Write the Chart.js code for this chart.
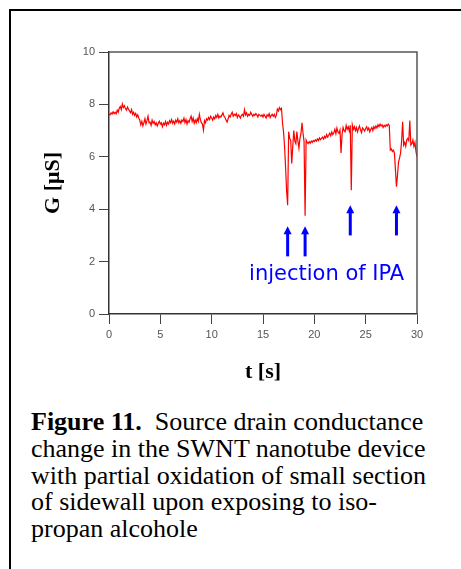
<!DOCTYPE html>
<html>
<head>
<meta charset="utf-8">
<script src="https://cdn.jsdelivr.net/npm/chart.js@4/dist/chart.umd.min.js"></script>
<style>
  html, body { margin: 0; padding: 0; background: #fff; }
  body { width: 461px; height: 569px; position: relative; overflow: hidden; }
  #frame { position: absolute; left: 9px; top: 9px; width: 470px; height: 600px;
           border-left: 2px solid #000; border-top: 2px solid #000; }
  #wrap { position: absolute; left: 0; top: 0; width: 461px; height: 395px; }
  #caption { position: absolute; left: 31px; top: 409px; font-family: "Liberation Serif", "Times New Roman", serif;
             font-size: 26px; line-height: 26.8px; color: #000; white-space: pre; }
</style>
</head>
<body>
<div id="frame"></div>
<div id="wrap"><canvas id="c" width="461" height="395"></canvas></div>
<div id="caption"><b>Figure 11.</b>  Source drain conductance
change in the SWNT nanotube device
with partial oxidation of small section
of sidewall upon exposing to iso-
propan alcohole</div>
<script>
// time axis: 0.0 .. 30.0 s in 0.1 s steps
const timeStep = 0.1;
const conductance = [
  // 0-1 s
  7.62,7.60,7.68,7.63,7.72,7.65,7.70,7.64,7.78,7.70,
  // 1-2
  7.85,7.92,7.80,8.02,7.88,7.95,7.84,7.78,7.90,7.82,
  // 2-3
  7.75,7.68,7.80,7.62,7.70,7.58,7.66,7.52,7.60,7.48,
  // 3-4
  7.40,7.22,7.35,7.18,7.30,7.45,7.25,7.38,7.55,7.30,
  // 4-5
  7.32,7.20,7.40,7.28,7.35,7.22,7.30,7.18,7.28,7.36,
  // 5-6
  7.25,7.30,7.15,7.28,7.22,7.35,7.20,7.32,7.25,7.38,
  // 6-7
  7.30,7.42,7.28,7.36,7.25,7.40,7.32,7.45,7.30,7.38,
  // 7-8
  7.28,7.40,7.35,7.48,7.30,7.42,7.25,7.38,7.32,7.45,
  // 8-9
  7.55,7.35,7.48,7.28,7.40,7.30,7.45,7.35,7.62,7.42,
  // 9-10
  7.30,7.25,7.02,7.38,7.30,7.45,7.40,7.50,7.42,7.55,
  // 10-11
  7.48,7.40,7.52,7.45,7.58,7.50,7.62,7.48,7.55,7.52,
  // 11-12
  7.60,7.68,7.55,7.50,7.40,7.32,7.45,7.58,7.52,7.62,
  // 12-13
  7.70,7.55,7.62,7.58,7.65,7.50,7.60,7.55,7.48,7.58,
  // 13-14
  7.62,7.55,7.80,7.60,7.68,7.55,7.62,7.58,7.70,7.62,
  // 14-15
  7.55,7.62,7.58,7.65,7.60,7.52,7.62,7.58,7.55,7.60,
  // 15-16
  7.52,7.62,7.55,7.48,7.60,7.55,7.65,7.50,7.58,7.62,
  // 16-17
  7.55,7.62,7.50,7.58,7.82,7.75,7.88,7.80,7.85,7.30,
  // 17-18
  6.95,6.40,5.60,4.70,4.15,6.96,6.70,6.64,5.75,6.40,
  // 18-19
  7.00,6.60,6.50,6.96,6.60,6.33,6.70,6.90,7.30,6.90,
  // 19-20
  6.58,3.75,6.64,6.55,6.50,6.58,6.52,6.60,6.55,6.62,
  // 20-21
  6.58,6.65,6.60,6.68,6.62,6.72,6.65,6.70,6.75,6.68,
  // 21-22
  6.78,6.72,6.85,6.75,6.82,6.90,6.80,6.95,6.85,6.92,
  // 22-23
  7.05,6.88,7.10,6.95,6.90,7.02,6.15,6.85,7.12,7.00,
  // 23-24
  6.95,7.20,7.05,7.15,6.98,7.20,4.72,7.22,7.05,7.15,
  // 24-25
  7.00,7.12,6.95,7.08,7.18,7.02,6.92,7.10,7.05,6.98,
  // 25-26
  7.08,7.15,7.02,7.10,6.95,7.05,7.12,7.00,7.15,7.08,
  // 26-27
  7.18,7.10,7.22,7.15,7.25,7.18,7.22,7.12,7.20,7.15,
  // 27-28
  7.22,7.18,7.25,7.20,6.26,6.30,6.20,6.25,6.15,5.50,
  // 28-29
  4.86,5.30,5.80,5.95,6.14,6.60,7.34,6.45,6.55,6.40,
  // 29-30
  6.64,6.70,6.62,7.38,6.45,6.50,6.64,6.40,6.55,6.20,
  6.00
];
const xTicks = [0, 5, 10, 15, 20, 25, 30];
const yTicks = [0, 2, 4, 6, 8, 10];
// IPA injection arrows: time, tail value, tip value
const arrowTimes = [17.4, 19.1, 23.5, 28.0];
const arrowTails = [2.2, 2.2, 3.0, 3.0];
const arrowTips  = [3.35, 3.35, 4.15, 4.15];
const annotationText = "injection of IPA";
const annotationT = 21.2;
const annotationG = 1.5;

const points = conductance.map((g, i) => ({ x: Math.round(i * timeStep * 10) / 10, y: g }));

const framePlugin = {
  id: 'frame',
  afterDraw(chart) {
    const { ctx, chartArea: a, scales: { x, y } } = chart;
    ctx.save();
    // top & right frame lines
    ctx.strokeStyle = '#555';
    ctx.lineWidth = 1.5;
    ctx.beginPath();
    ctx.moveTo(a.left, a.top); ctx.lineTo(a.right, a.top); ctx.lineTo(a.right, a.bottom);
    ctx.stroke();
    // arrows
    ctx.strokeStyle = '#0000ff';
    ctx.fillStyle = '#0000ff';
    arrowTimes.forEach((t, i) => {
      const px = x.getPixelForValue(t);
      const y0 = y.getPixelForValue(arrowTails[i]);
      const y1 = y.getPixelForValue(arrowTips[i]);
      ctx.lineWidth = 3;
      ctx.beginPath();
      ctx.moveTo(px, y0); ctx.lineTo(px, y1 + 6); ctx.stroke();
      ctx.beginPath();
      ctx.moveTo(px, y1); ctx.lineTo(px - 4, y1 + 8); ctx.lineTo(px + 4, y1 + 8); ctx.closePath();
      ctx.fill();
    });
    // annotation
    ctx.font = '21px "DejaVu Sans", sans-serif';
    ctx.textAlign = 'center';
    ctx.textBaseline = 'middle';
    ctx.fillText(annotationText, x.getPixelForValue(annotationT), y.getPixelForValue(annotationG));
    ctx.restore();
  }
};

new Chart(document.getElementById('c'), {
  type: 'line',
  data: {
    datasets: [{
      data: points,
      borderColor: '#ff0000',
      borderWidth: 1.2,
      pointRadius: 0,
      tension: 0,
      fill: false
    }]
  },
  options: {
    responsive: false,
    animation: false,
    plugins: { legend: { display: false }, tooltip: { enabled: false } },
    layout: { padding: { left: 0, right: 44, top: 52, bottom: 0 } },
    scales: {
      x: {
        type: 'linear', min: 0, max: 30,
        afterBuildTicks: s => { s.ticks = xTicks.map(v => ({ value: v })); },
        afterFit: s => { s.height = 81; },
        grid: { drawOnChartArea: false, drawTicks: true, tickLength: 10, color: '#444', tickWidth: 1 },
        border: { display: true, color: '#333', width: 1.5 },
        ticks: { color: '#555', font: { family: 'Liberation Sans, Arial, sans-serif', size: 11 }, padding: 4, maxRotation: 0 },
        title: { display: true, text: 't [s]', color: '#000',
                 font: { family: 'Liberation Serif, Times New Roman, serif', size: 22, weight: 'bold' },
                 padding: { top: 0, bottom: 9 } }
      },
      y: {
        type: 'linear', min: 0, max: 10,
        afterBuildTicks: s => { s.ticks = yTicks.map(v => ({ value: v })); },
        afterFit: s => { s.width = 109; },
        grid: { drawOnChartArea: false, drawTicks: true, tickLength: 10, color: '#444', tickWidth: 1 },
        border: { display: true, color: '#333', width: 1.5 },
        ticks: { color: '#555', font: { family: 'Liberation Sans, Arial, sans-serif', size: 11 }, padding: 4 },
        title: { display: true, text: 'G [μS]', color: '#000',
                 font: { family: 'Liberation Serif, Times New Roman, serif', size: 22, weight: 'bold' },
                 padding: { top: 40, bottom: 0 } }
      }
    }
  },
  plugins: [framePlugin]
});
</script>
</body>
</html>
